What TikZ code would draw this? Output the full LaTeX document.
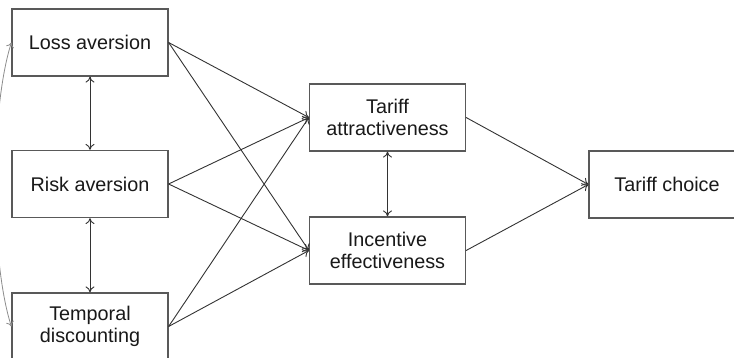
\documentclass[tikz,border=0pt]{standalone}
\usepackage{fontspec}
\setmainfont{Liberation Sans}
\usetikzlibrary{arrows.meta}
\begin{document}
\begin{tikzpicture}[x=1pt,y=-1pt,
  box/.style={draw=black!65,line width=1.2pt,fill=white,minimum width=156pt,minimum height=67pt,inner sep=0pt,align=center,font=\fontsize{19.8}{22}\selectfont,text=black!90},
  link/.style={draw=black!80,line width=0.9pt,-{To[length=6pt,width=9pt]}},
  dlink/.style={draw=black!80,line width=0.9pt,{To[length=6pt,width=9pt]}-{To[length=6pt,width=9pt]}},
  cov/.style={draw=black!45,line width=0.8pt,{To[length=5pt,width=8pt]}-{To[length=5pt,width=8pt]}}]
\useasboundingbox (0,0) rectangle (734,358);
\clip (0,0) rectangle (734,358);
\node[box] (loss) at (90,42.5) {Loss aversion};
\node[box] (risk) at (90,184) {Risk aversion};
\node[box] (temp) at (90,326.5) {Temporal\\discounting};
\node[box] (ta) at (387.5,117.5) {Tariff\\attractiveness};
\node[box] (ie) at (387.5,250.5) {Incentive\\effectiveness};
\node[box] (tc) at (667,184.5) {Tariff choice};
\draw[cov] (loss.west) .. controls (-10,110) and (-10,260) .. (temp.west);
\draw[dlink] (loss.south) -- (risk.north);
\draw[dlink] (risk.south) -- (temp.north);
\draw[dlink] (ta.south) -- (ie.north);
\foreach \s in {loss,risk,temp}{
  \draw[link] (\s.east) -- (ta.west);
  \draw[link] (\s.east) -- (ie.west);
}
\draw[link] (ta.east) -- (tc.west);
\draw[link] (ie.east) -- (tc.west);
\end{tikzpicture}
\end{document}
